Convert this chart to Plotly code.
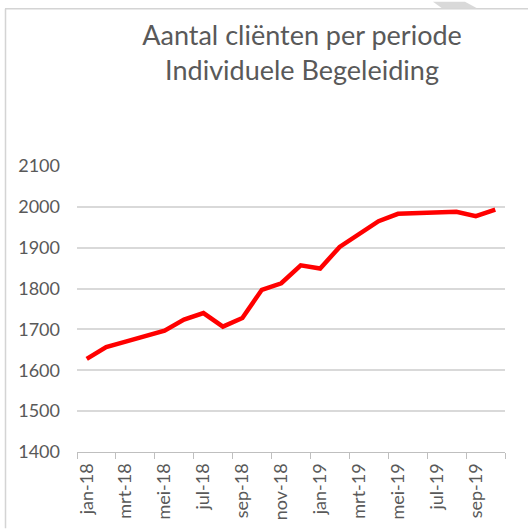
import plotly.graph_objects as go

months = ["jan-18", "feb-18", "mrt-18", "apr-18", "mei-18", "jun-18", "jul-18", "aug-18",
          "sep-18", "okt-18", "nov-18", "dec-18", "jan-19", "feb-19", "mrt-19", "apr-19",
          "mei-19", "jun-19", "jul-19", "aug-19", "sep-19", "okt-19"]
clients = [1628, 1657, 1670, 1683, 1697, 1724, 1740, 1707, 1728, 1797, 1813, 1857,
           1849, 1902, 1933, 1965, 1983, 1985, 1985, 1988, 1977, 1993]
y_ticks = [1400, 1500, 1600, 1700, 1800, 1900, 2000, 2100]

W, H = 528, 532
L, R, T, B = 77, 23, 166, 77
pw, ph = W - L - R, H - T - B

def px(x):
    return (x - L) / pw

def py(y):
    return (H - B - y) / ph

idx = list(range(len(months)))
FONT = "Lato"
GREY = "#595959"

fig = go.Figure()
fig.add_trace(go.Scatter(x=idx, y=clients, mode="lines",
                         line=dict(color="#ff0000", width=4.5), hoverinfo="y"))

fig.update_layout(
    width=W, height=H,
    margin=dict(l=L, r=R, t=T, b=B),
    paper_bgcolor="white", plot_bgcolor="white",
    showlegend=False,
    title=dict(text="Aantal cliënten per periode<br>Individuele Begeleiding",
               x=0.572, xanchor="center", y=1 - 45 / H, yanchor="middle",
               font=dict(family=FONT, size=27, color=GREY)),
    font=dict(family=FONT, color=GREY),
    xaxis=dict(range=[-0.5, len(months) - 0.5],
               tickvals=idx[::2], ticktext=months[::2], tickangle=-90,
               ticks="", showgrid=False, zeroline=False,
               showline=True, linecolor="#bfbfbf", linewidth=1.3,
               tickfont=dict(family=FONT, size=18, color=GREY),
               ticklabelstandoff=3,
               minor=dict(tick0=-0.5, dtick=2, ticks="outside", ticklen=6,
                          tickcolor="#bfbfbf", tickwidth=1.3, showgrid=False)),
    yaxis=dict(range=[1400, 2100], tickvals=y_ticks,
               showgrid=True, gridcolor="#d9d9d9", gridwidth=1.5,
               zeroline=False, showline=False, ticks="",
               tickfont=dict(family=FONT, size=18, color=GREY),
               ticklabelstandoff=16),
    shapes=[
        dict(type="line", xref="paper", yref="paper",
             x0=px(5), x1=px(W), y0=py(7), y1=py(7),
             line=dict(color="#d4d4d4", width=1.5)),
        dict(type="line", xref="paper", yref="paper",
             x0=px(5.5), x1=px(5.5), y0=py(7), y1=py(H),
             line=dict(color="#d4d4d4", width=1.5)),
        dict(type="path", xref="paper", yref="paper",
             path=f"M {px(433)} {py(0)} L {px(465)} {py(0)} L {px(477)} {py(6.5)} L {px(442)} {py(6.5)} Z",
             fillcolor="#d9d9d9", line=dict(width=0)),
    ],
)

fig.write_html("out.html",
               config={"displayModeBar": False},
               post_script="document.body.style.margin='0';document.body.style.overflow='hidden';")
